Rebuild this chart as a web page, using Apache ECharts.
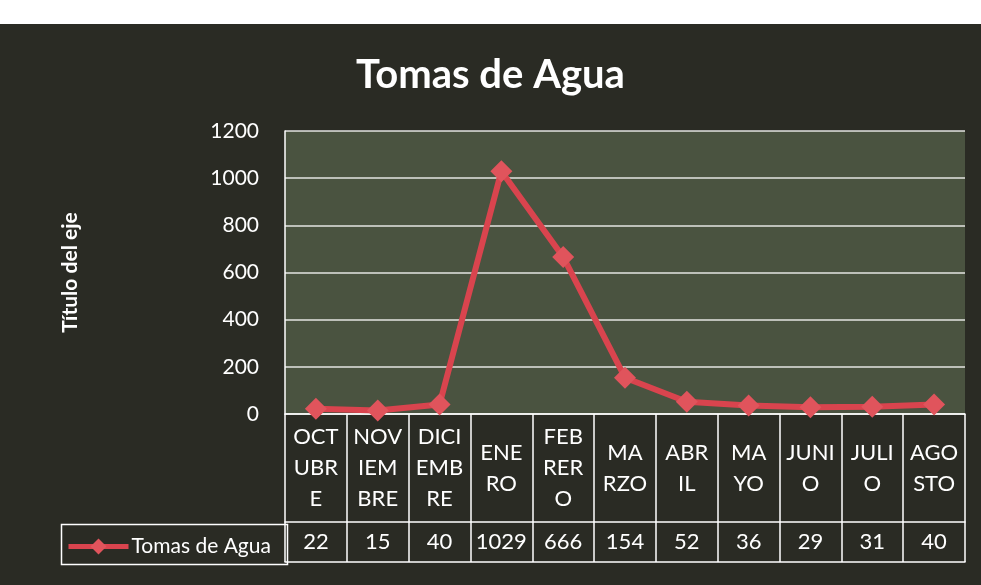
<!DOCTYPE html>
<html>
<head>
<meta charset="utf-8">
<style>
  html, body { margin: 0; padding: 0; background: #fff; }
  #chart { width: 981px; height: 585px; }
</style>
<script src="https://cdn.jsdelivr.net/npm/echarts@6/dist/echarts.min.js"></script>
</head>
<body>
<div id="chart"></div>
<script>
// meses (como aparecen cortados en la tabla de datos)
const months = ["OCTUBRE", "NOVIEMBRE", "DICIEMBRE", "ENERO", "FEBRERO", "MARZO",
  "ABRIL", "MAYO", "JUNIO", "JULIO", "AGOSTO"];
const monthLabels = ["OCT\nUBR\nE", "NOV\nIEM\nBRE", "DICI\nEMB\nRE", "ENE\nRO", "FEB\nRER\nO",
  "MA\nRZO", "ABR\nIL", "MA\nYO", "JUNI\nO", "JULI\nO", "AGO\nSTO"];
const tomas = [22, 15, 40, 1029, 666, 154, 52, 36, 29, 31, 40];
const yTicks = [0, 200, 400, 600, 800, 1000, 1200];

const font = "Lato";
const white = "#ffffff";

const chart = echarts.init(document.getElementById("chart"));

const opt = {
  backgroundColor: "#2a2b24",
  animation: false,
  textStyle: { fontFamily: font },
  title: {
    text: "Tomas de Agua",
    left: "center",
    top: 50,
    textStyle: { color: white, fontSize: 40, fontWeight: "bold", fontFamily: font },
  },
  legend: {
    data: ["Tomas de Agua"],
    left: 61,
    top: 531,
    itemWidth: 60,
    itemHeight: 20,
    itemGap: 2,
    lineStyle: { width: 5 },
    textStyle: { color: white, fontSize: 21, fontFamily: font, padding: [0, 0, 0, -2] },
  },
  grid: {
    left: 285,
    right: 16,
    top: 131,
    bottom: 171,
    show: true,
    borderWidth: 0,
    backgroundColor: "#4a5340",
  },
  yAxis: {
    type: "value",
    min: yTicks[0],
    max: yTicks[yTicks.length - 1],
    interval: 200,
    name: "Título del eje",
    nameLocation: "middle",
    nameGap: 204,
    nameTextStyle: { color: white, fontSize: 21, fontWeight: "bold", fontFamily: font },
    axisLine: { show: true, lineStyle: { color: white, width: 1.5 } },
    axisTick: { show: false },
    axisLabel: {
      color: white,
      fontSize: 21,
      margin: 26,
      fontFamily: font,
      formatter: (v) => String(v),
    },
    splitLine: { lineStyle: { color: "rgba(255,255,255,0.85)", width: 1.5 } },
  },
  xAxis: [
    {
      type: "category",
      data: months,
      position: "bottom",
      axisLine: { lineStyle: { color: white, width: 1.5 } },
      axisTick: { show: true, interval: 0, length: 108, lineStyle: { color: white, width: 1.5 } },
      axisLabel: {
        interval: 0,
        color: white,
        fontSize: 22,
        lineHeight: 31,
        margin: 54,
        verticalAlign: "middle",
        fontFamily: font,
        formatter: (v, i) => monthLabels[i],
      },
    },
    {
      type: "category",
      data: tomas.map((v) => String(v)),
      position: "bottom",
      offset: 108,
      axisLine: { lineStyle: { color: white, width: 1.5 } },
      axisTick: { show: true, interval: 0, length: 40, lineStyle: { color: white, width: 1.5 } },
      axisLabel: {
        interval: 0,
        color: white,
        fontSize: 22,
        margin: 20,
        verticalAlign: "middle",
        fontFamily: font,
      },
    },
    {
      type: "category",
      data: months,
      position: "bottom",
      offset: 148,
      axisLine: { lineStyle: { color: white, width: 1.5 } },
      axisTick: { show: false },
      axisLabel: { show: false },
    },
  ],
  graphic: [
    // franja blanca del escaneo
    { type: "rect", left: 0, top: 0, shape: { width: 981, height: 24 }, style: { fill: "#fff" } },
    // celda de la leyenda
    {
      type: "rect",
      left: 59,
      top: 522,
      shape: { width: 226, height: 40 },
      style: { fill: "none", stroke: white, lineWidth: 1.5 },
    },
  ],
  series: [
    {
      name: "Tomas de Agua",
      type: "line",
      data: tomas,
      xAxisIndex: 0,
      symbol: "diamond",
      symbolSize: 22,
      lineStyle: { color: "#d9444e", width: 6 },
      itemStyle: { color: "#e0545c" },
    },
  ],
};

chart.setOption(opt);
</script>
</body>
</html>
